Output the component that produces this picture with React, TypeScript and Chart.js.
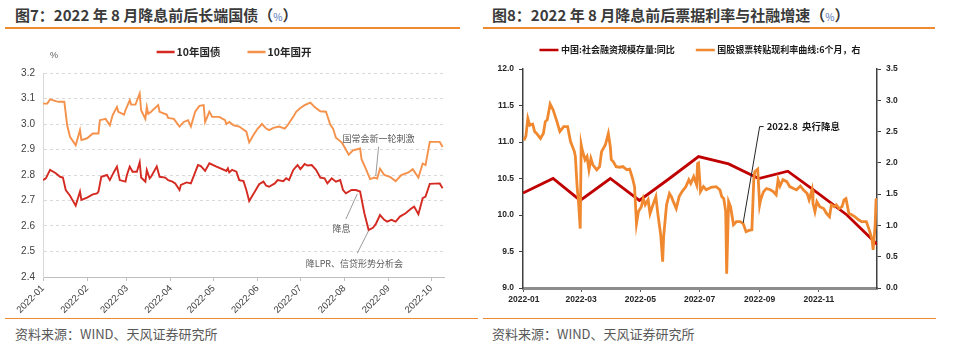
import React, { useEffect, useRef } from "react";
import { Chart, registerables } from "chart.js";

Chart.register(...registerables);

const FONT = "'Liberation Sans', 'Noto Sans CJK SC', sans-serif";
const CJK = "'Noto Sans CJK SC', 'Liberation Sans', sans-serif";
Chart.defaults.font.family = FONT;

// ================= Figure 7 data =================
const fig7Title = "图7：2022 年 8 月降息前后长端国债（";
const fig7Unit = "%";
const fig7AxisUnit = "%";
const govName = "10年国债";
const cdbName = "10年国开";
const fig7Months = ["2022-01", "2022-02", "2022-03", "2022-04", "2022-05", "2022-06", "2022-07", "2022-08", "2022-09", "2022-10"];

const govDates = [
  "01-01", "01-03", "01-06", "01-10", "01-13", "01-15", "01-17", "01-20", "01-24", "01-27", "01-28",
  "02-01", "02-05", "02-08", "02-09", "02-11", "02-15", "02-17", "02-20", "02-22", "02-24", "02-28",
  "03-01", "03-03", "03-05", "03-08", "03-10", "03-11", "03-14", "03-15", "03-17", "03-18", "03-22", "03-24", "03-28", "03-30",
  "04-02", "04-04", "04-07", "04-08", "04-12", "04-15", "04-18", "04-20", "04-22", "04-25", "04-28",
  "05-03", "05-10", "05-11", "05-12", "05-14", "05-17", "05-19", "05-22", "05-24", "05-26", "05-30",
  "06-02", "06-05", "06-07", "06-09", "06-13", "06-15", "06-19", "06-21", "06-23", "06-26", "06-29",
  "07-01", "07-04", "07-06", "07-09", "07-12", "07-15", "07-18", "07-20", "07-23", "07-26", "07-29", "07-31",
  "08-02", "08-06", "08-09", "08-12", "08-15", "08-18", "08-21", "08-23", "08-26", "08-29", "08-31",
  "09-03", "09-06", "09-09", "09-13", "09-17", "09-19", "09-22", "09-25", "09-27", "09-30",
  "10-07", "10-09",
];
const govYields = [
  2.780, 2.787, 2.820, 2.807, 2.793, 2.790, 2.741, 2.719, 2.680, 2.735, 2.702,
  2.711, 2.724, 2.728, 2.735, 2.793, 2.800, 2.780, 2.813, 2.833, 2.780, 2.774,
  2.800, 2.833, 2.813, 2.813, 2.850, 2.790, 2.774, 2.820, 2.787, 2.793, 2.833, 2.793, 2.790, 2.780,
  2.774, 2.767, 2.741, 2.761, 2.771, 2.767, 2.810, 2.839, 2.835, 2.816, 2.846,
  2.833, 2.816, 2.826, 2.810, 2.820, 2.813, 2.780, 2.776, 2.741, 2.698, 2.735,
  2.764, 2.774, 2.758, 2.754, 2.767, 2.780, 2.776, 2.787, 2.780, 2.820, 2.839,
  2.823, 2.843, 2.837, 2.839, 2.820, 2.790, 2.787, 2.767, 2.787, 2.774, 2.780, 2.741,
  2.728, 2.741, 2.741, 2.735, 2.650, 2.584, 2.593, 2.607, 2.643, 2.624, 2.617,
  2.624, 2.617, 2.637, 2.650, 2.669, 2.676, 2.646, 2.709, 2.715, 2.765,
  2.767, 2.748,
];

const cdbDates = [
  "01-01", "01-04", "01-06", "01-10", "01-12", "01-16", "01-18", "01-20", "01-24", "01-27", "01-28",
  "02-01", "02-05", "02-09", "02-10", "02-14", "02-17", "02-19", "02-22", "02-23", "02-27", "02-28",
  "03-03", "03-04", "03-07", "03-10", "03-11", "03-14", "03-15", "03-16", "03-18", "03-23", "03-24", "03-29", "03-30",
  "04-03", "04-07", "04-10", "04-13", "04-15", "04-18", "04-21", "04-24", "04-25", "04-28", "04-30",
  "05-05", "05-09", "05-10", "05-12", "05-15", "05-19", "05-24", "05-26", "05-29",
  "06-01", "06-04", "06-07", "06-09", "06-12", "06-16", "06-20", "06-22", "06-26", "06-28",
  "07-01", "07-04", "07-08", "07-11", "07-15", "07-19", "07-22", "07-24", "07-26", "07-30",
  "08-01", "08-04", "08-07", "08-12", "08-13", "08-16", "08-19", "08-22", "08-24", "08-26", "08-29",
  "09-02", "09-06", "09-10", "09-15", "09-18", "09-22", "09-25", "09-27", "09-30",
  "10-07", "10-09",
];
const cdbYields = [
  3.080, 3.080, 3.097, 3.090, 3.087, 3.087, 2.995, 2.950, 2.917, 2.976, 2.937,
  2.944, 2.963, 2.963, 3.015, 3.020, 2.995, 3.035, 3.067, 3.048, 3.037, 3.054,
  3.093, 3.076, 3.076, 3.120, 3.054, 3.020, 3.067, 3.040, 3.048, 3.074, 3.048, 3.037, 3.024,
  3.020, 2.990, 3.008, 3.015, 2.990, 3.048, 3.071, 3.074, 3.008, 3.048, 3.028,
  3.028, 3.015, 3.000, 3.008, 2.995, 2.990, 2.970, 2.928, 2.957,
  2.982, 3.000, 2.982, 2.976, 2.985, 2.990, 2.982, 2.995, 3.028, 3.048,
  3.063, 3.074, 3.084, 3.067, 3.050, 3.048, 2.998, 2.982, 2.946, 2.928,
  2.910, 2.880, 2.897, 2.904, 2.862, 2.825, 2.784, 2.790, 2.786, 2.825, 2.800,
  2.793, 2.776, 2.800, 2.810, 2.823, 2.790, 2.845, 2.839, 2.930,
  2.930, 2.910,
];

// annotations (figure 7): leader line from -> to, text centred at textAt
const fig7NoteTexts = ["国常会新一轮刺激", "降息", "降LPR、信贷形势分析会"];
const fig7NoteFromDates = ["08-23", "08-02", "08-10"];
const fig7NoteFromValues = [2.796, 2.627, 2.493];
const fig7NoteToDates = ["08-25", "08-10", "08-18"];
const fig7NoteToValues = [2.911, 2.726, 2.582];
const fig7NoteTextDates = ["08-25", "07-30", "08-08"];
const fig7NoteTextValues = [2.944, 2.589, 2.451];

// ================= Figure 8 data =================
const fig8Title = "图8：2022 年 8 月降息前后票据利率与社融增速（";
const tsfName = "中国:社会融资规模存量:同比";
const billName = "国股银票转贴现利率曲线:6个月，右";
const fig8Months = ["2022-01", "2022-03", "2022-05", "2022-07", "2022-09", "2022-11"];

const tsfDates = [
  "2021-12-31", "2022-01-31", "2022-02-28", "2022-03-31", "2022-04-30", "2022-05-31", "2022-06-30",
  "2022-07-31", "2022-08-31", "2022-09-30", "2022-10-31", "2022-11-30", "2022-12-31",
];
const tsfGrowth = [10.3, 10.5, 10.2, 10.5, 10.2, 10.5, 10.8, 10.7, 10.5, 10.6, 10.3, 10.0, 9.6];

const billDates = [
  "01-01", "01-03", "01-05", "01-07", "01-10", "01-12", "01-14", "01-18", "01-21", "01-23", "01-25", "01-28", "01-31",
  "02-04", "02-07", "02-11", "02-15", "02-18", "02-22", "02-23", "02-25", "02-26", "02-28",
  "03-01", "03-02", "03-05", "03-07", "03-09", "03-11", "03-13", "03-17", "03-20", "03-22", "03-26", "03-29", "03-31",
  "04-01", "04-03", "04-06", "04-10", "04-13", "04-17", "04-20", "04-23", "04-25", "04-26", "04-27", "04-29",
  "05-02", "05-04", "05-06", "05-09", "05-11", "05-14", "05-17", "05-19", "05-22", "05-24", "05-25", "05-28", "05-31",
  "06-02", "06-04", "06-07", "06-10", "06-13", "06-17", "06-20", "06-22", "06-25", "06-28", "06-29", "06-30",
  "07-02", "07-05", "07-08", "07-13", "07-18", "07-22", "07-24", "07-26", "07-28", "07-29", "07-31",
  "08-02", "08-05", "08-08", "08-12", "08-15", "08-18", "08-21", "08-24", "08-26", "08-27", "08-30",
  "09-01", "09-02", "09-05", "09-08", "09-12", "09-15", "09-18", "09-20", "09-22", "09-25", "09-29",
  "10-02", "10-06", "10-09", "10-13", "10-16", "10-20", "10-22", "10-25", "10-26", "10-28", "10-30",
  "11-02", "11-06", "11-09", "11-12", "11-14", "11-17", "11-19", "11-22", "11-25", "11-27", "11-29",
  "12-02", "12-05", "12-08", "12-12", "12-15", "12-20", "12-23", "12-26", "12-27", "12-29", "12-30", "12-31",
];
const billRates = [
  2.36, 2.43, 2.71, 2.60, 2.62, 2.50, 2.47, 2.39, 2.47, 2.66, 2.69, 2.94, 2.85,
  2.66, 2.50, 2.58, 2.58, 2.34, 2.18, 2.10, 1.57, 1.43, 0.95,
  2.29, 2.21, 2.05, 2.10, 1.89, 2.07, 1.97, 1.89, 1.94, 2.18, 2.29, 2.47, 2.26,
  2.05, 2.02, 1.94, 1.93, 1.94, 1.89, 1.90, 1.75, 1.62, 1.33, 1.03, 1.22,
  1.30, 1.43, 1.33, 1.41, 1.19, 1.33, 1.46, 1.19, 0.85, 0.42, 0.82, 1.33, 1.51,
  1.46, 1.38, 1.27, 1.46, 1.54, 1.62, 1.73, 1.67, 1.78, 1.65, 1.99, 2.00,
  1.54, 1.62, 1.57, 1.61, 1.62, 1.57, 1.46, 1.43, 1.22, 0.23, 1.38,
  1.30, 1.01, 1.06, 1.06, 1.03, 0.90, 0.92, 0.93, 1.75, 1.86, 1.90,
  1.33, 1.41, 1.54, 1.59, 1.57, 1.54, 1.49, 1.73, 1.63, 1.73, 1.70,
  1.62, 1.59, 1.57, 1.63, 1.57, 1.51, 1.41, 1.57, 1.35, 1.22, 1.38,
  1.30, 1.27, 1.19, 1.14, 1.33, 1.30, 1.33, 1.27, 1.30, 1.41, 1.43,
  1.19, 1.17, 1.14, 1.09, 1.06, 1.06, 0.93, 0.77, 0.61, 0.98, 1.41, 1.43,
];

const fig8NoteTexts = ["2022.8  央行降息"];
const fig8NoteFromDates = ["08-15"];
const fig8NoteFromValues = [1.04];
const fig8NoteToDates = ["09-01"];
const fig8NoteToValues = [2.58];

const sourceText = "资料来源：WIND、天风证券研究所";

// ================= helpers =================
function dayOf(s: string): number {
  const p = s.split("-").map(Number);
  const [y, m, d] = p.length === 3 ? p : [2022, p[0], p[1]];
  return (Date.UTC(y, m - 1, d) - Date.UTC(2022, 0, 1)) / 86400000;
}

function toPoints(dates: string[], values: number[]) {
  return dates.map((d, i) => ({ x: dayOf(d), y: values[i] }));
}

const customLegend = {
  id: "customLegend",
  afterDraw(chart: any, _a: any, o: any) {
    const { ctx } = chart;
    const items = chart.data.datasets.map((ds: any) => ({ text: ds.label, color: ds.borderColor }));
    ctx.save();
    ctx.font = `bold ${o.size}px ${CJK}`;
    const widths = items.map((it: any) => o.lineLen + o.lineGap + ctx.measureText(it.text).width);
    const total = widths.reduce((a: number, b: number) => a + b, 0) + o.itemGap * (items.length - 1);
    let x = o.centerX - total / 2;
    const y = chart.chartArea.top - o.offsetY;
    items.forEach((it: any, i: number) => {
      ctx.fillStyle = it.color;
      ctx.fillRect(x, y - o.lineW / 2, o.lineLen, o.lineW);
      ctx.fillStyle = o.color;
      ctx.textBaseline = "middle";
      ctx.textAlign = "left";
      ctx.fillText(it.text, x + o.lineLen + o.lineGap, y);
      x += widths[i] + o.itemGap;
    });
    if (o.unit) {
      ctx.font = `${o.unitSize}px ${FONT}`;
      ctx.fillStyle = o.unitColor;
      ctx.textAlign = "left";
      ctx.fillText(o.unit, chart.chartArea.left + o.unitDx, chart.chartArea.top + o.unitDy);
    }
    ctx.restore();
  },
};

const notesPlugin = {
  id: "notes",
  afterDatasetsDraw(chart: any, _a: any, o: any) {
    const { ctx } = chart;
    const xs = chart.scales.x;
    const ys = chart.scales[o.axis];
    ctx.save();
    o.texts.forEach((t: string, i: number) => {
      const x1 = xs.getPixelForValue(dayOf(o.fromDates[i]));
      const y1 = ys.getPixelForValue(o.fromValues[i]);
      const x2 = xs.getPixelForValue(dayOf(o.toDates[i]));
      const y2 = ys.getPixelForValue(o.toValues[i]);
      ctx.strokeStyle = o.lineColor;
      ctx.lineWidth = o.lineWidth;
      ctx.beginPath();
      ctx.moveTo(x1, y1);
      ctx.lineTo(x2, y2);
      if (o.hook) ctx.lineTo(x2 + o.hook, y2);
      ctx.stroke();
      ctx.font = `${o.weight} ${o.size}px ${CJK}`;
      ctx.fillStyle = o.color;
      ctx.textBaseline = "middle";
      if (o.textDates) {
        ctx.textAlign = "center";
        ctx.fillText(t, xs.getPixelForValue(dayOf(o.textDates[i])), ys.getPixelForValue(o.textValues[i]));
      } else {
        ctx.textAlign = "left";
        ctx.fillText(t, x2 + o.hook + o.textGap, y2);
      }
    });
    ctx.restore();
  },
};

// ================= Figure 7 =================
function Fig7() {
  const ref = useRef<HTMLCanvasElement>(null);
  useEffect(() => {
    const chart = new Chart(ref.current!, {
      type: "line",
      data: {
        datasets: [
          { label: govName, data: toPoints(govDates, govYields), borderColor: "#d42a22", borderWidth: 1.9, pointRadius: 0, tension: 0 },
          { label: cdbName, data: toPoints(cdbDates, cdbYields), borderColor: "#f5914a", borderWidth: 1.9, pointRadius: 0, tension: 0 },
        ],
      },
      options: {
        animation: false,
        responsive: false,
        events: [],
        layout: { padding: { top: 43, right: 31, left: 0, bottom: 0 } },
        plugins: {
          legend: { display: false },
          tooltip: { enabled: false },
          customLegend: { centerX: 234, offsetY: 21, lineLen: 18, lineGap: 2, itemGap: 27, lineW: 2.5, size: 10.5, color: "#262626", unit: fig7AxisUnit, unitSize: 9, unitColor: "#595959", unitDx: 7, unitDy: -17 },
          notes: {
            axis: "y", texts: fig7NoteTexts, fromDates: fig7NoteFromDates, fromValues: fig7NoteFromValues,
            toDates: fig7NoteToDates, toValues: fig7NoteToValues, textDates: fig7NoteTextDates, textValues: fig7NoteTextValues,
            lineColor: "#808080", lineWidth: 0.8, weight: "normal", size: 9, color: "#595959", hook: 0,
          },
        } as any,
        scales: {
          x: {
            type: "linear",
            min: 0,
            max: 282,
            afterBuildTicks: (s: any) => { s.ticks = fig7Months.map((m) => ({ value: dayOf(m + "-01") })); },
            afterFit: (s: any) => { s.height = 38; },
            ticks: { autoSkip: false, minRotation: 45, maxRotation: 45, padding: 2, color: "#404040", font: { size: 9.5 }, callback: (_v: any, i: number) => fig7Months[i] },
            grid: { drawOnChartArea: false, drawTicks: true, tickLength: 4, tickColor: "#bfbfbf" },
            border: { color: "#bfbfbf", width: 1 },
          },
          y: {
            min: 2.4,
            max: 3.2,
            afterFit: (s: any) => { s.width = 43; },
            ticks: { stepSize: 0.1, padding: 8, color: "#404040", font: { size: 10 }, callback: (v: any) => Number(v).toFixed(1) },
            grid: { color: "#d9d9d9", drawTicks: false, lineWidth: 1 },
            border: { color: "#d9d9d9", width: 1, dash: [3, 3] },
          },
        },
      },
      plugins: [customLegend, notesPlugin],
    } as any);
    return () => chart.destroy();
  }, []);
  return <canvas ref={ref} width={475} height={285} style={{ position: "absolute", left: 0, top: 30 }} />;
}

// ================= Figure 8 =================
function Fig8() {
  const ref = useRef<HTMLCanvasElement>(null);
  useEffect(() => {
    const tickFont = { size: 8.5, weight: "bold" as const };
    const chart = new Chart(ref.current!, {
      type: "line",
      data: {
        datasets: [
          { label: tsfName, data: toPoints(tsfDates, tsfGrowth), borderColor: "#c00000", borderWidth: 2.8, pointRadius: 0, tension: 0, yAxisID: "y", order: 1 },
          { label: billName, data: toPoints(billDates, billRates), borderColor: "#f0882f", borderWidth: 2.8, pointRadius: 0, tension: 0, yAxisID: "y1", order: 0 },
        ],
      },
      options: {
        animation: false,
        responsive: false,
        events: [],
        layout: { padding: { top: 39, right: 0, left: 0, bottom: 0 } },
        plugins: {
          legend: { display: false },
          tooltip: { enabled: false },
          customLegend: { centerX: 220, offsetY: 19, lineLen: 19, lineGap: 2.5, itemGap: 21, lineW: 2.5, size: 9, color: "#1a1a1a" },
          notes: {
            axis: "y1", texts: fig8NoteTexts, fromDates: fig8NoteFromDates, fromValues: fig8NoteFromValues,
            toDates: fig8NoteToDates, toValues: fig8NoteToValues,
            lineColor: "#262626", lineWidth: 1, weight: "bold", size: 9.5, color: "#1a1a1a", hook: 4, textGap: 3,
          },
        } as any,
        scales: {
          x: {
            type: "linear",
            min: -1,
            max: 364,
            afterBuildTicks: (s: any) => { s.ticks = fig8Months.map((m) => ({ value: dayOf(m + "-01") })); },
            afterFit: (s: any) => { s.height = 27; },
            ticks: { autoSkip: false, maxRotation: 0, minRotation: 0, padding: 3, color: "#262626", font: tickFont, callback: (_v: any, i: number) => fig8Months[i] },
            grid: { drawOnChartArea: false, drawTicks: true, tickLength: 4, tickColor: "#595959" },
            border: { color: "#8c8c8c", width: 3 },
          },
          y: {
            position: "left",
            min: 9,
            max: 12,
            afterFit: (s: any) => { s.width = 43; },
            ticks: { stepSize: 0.5, padding: 5, color: "#262626", font: tickFont, callback: (v: any) => Number(v).toFixed(1) },
            grid: { drawOnChartArea: false, drawTicks: true, tickLength: 4, tickColor: "#404040" },
            border: { color: "#404040", width: 1.5 },
          },
          y1: {
            position: "right",
            min: 0,
            max: 3.5,
            afterFit: (s: any) => { s.width = 80; },
            ticks: { stepSize: 0.5, padding: 5, color: "#262626", font: tickFont, callback: (v: any) => Number(v).toFixed(1) },
            grid: { drawOnChartArea: false, drawTicks: true, tickLength: 4, tickColor: "#404040" },
            border: { color: "#404040", width: 1.5 },
          },
        },
      },
      plugins: [customLegend, notesPlugin],
    } as any);
    return () => chart.destroy();
  }, []);
  return <canvas ref={ref} width={477} height={285} style={{ position: "absolute", left: 480, top: 30 }} />;
}

const titleStyle: React.CSSProperties = {
  position: "absolute",
  top: 5,
  fontFamily: CJK,
  fontWeight: 700,
  fontSize: 15,
  lineHeight: "20px",
  color: "#3a3a3a",
  whiteSpace: "nowrap",
};
const unitStyle: React.CSSProperties = { fontSize: 10, fontWeight: 400, color: "#4f74b3" };
const footStyle: React.CSSProperties = {
  position: "absolute",
  top: 324,
  fontFamily: CJK,
  fontSize: 13,
  lineHeight: "20px",
  color: "#595959",
  whiteSpace: "nowrap",
};
const rule = (left: number, top: number, width: number): React.CSSProperties => ({
  position: "absolute", left, top, width, height: 1.5, background: "#ee8a30",
});

export default function App() {
  return (
    <div style={{ position: "absolute", left: 0, top: 0, width: 957, height: 363, background: "#ffffff", overflow: "hidden" }}>
      <div style={{ ...titleStyle, left: 15 }}>{fig7Title}<span style={unitStyle}>{fig7Unit}</span>）</div>
      <div style={{ ...titleStyle, left: 492 }}>{fig8Title}<span style={unitStyle}>{fig7Unit}</span>）</div>
      <div style={rule(5, 27, 455)} />
      <div style={rule(483, 27, 452)} />
      <Fig7 />
      <Fig8 />
      <div style={rule(5, 317.5, 473)} />
      <div style={rule(483, 317.5, 453)} />
      <div style={{ ...footStyle, left: 15 }}>{sourceText}</div>
      <div style={{ ...footStyle, left: 492 }}>{sourceText}</div>
    </div>
  );
}
